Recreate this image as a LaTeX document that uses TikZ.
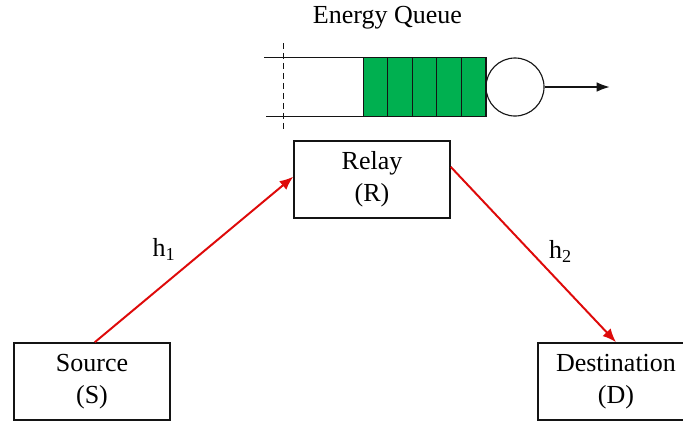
\documentclass[tikz,border=0pt]{standalone}
\usepackage{fontspec}
\setmainfont{Liberation Serif}
\usetikzlibrary{arrows.meta,positioning,calc}
\definecolor{linkred}{RGB}{222,10,10}
\definecolor{queuegreen}{RGB}{0,176,80}
\definecolor{boxline}{RGB}{20,20,20}
\tikzset{
  terminal/.style={draw=boxline, line width=1pt, fill=white, align=center,
    minimum width=3.9cm, minimum height=1.93cm, inner sep=0pt},
  cell/.style={draw=boxline, line width=0.8pt, fill=queuegreen},
  server/.style={circle, draw=boxline, line width=0.8pt, minimum size=1.45cm, inner sep=0pt},
  link/.style={-{Latex[length=3.4mm,width=2.8mm]}, line width=1.4pt, draw=linkred},
  flow/.style={-{Latex[length=3.2mm,width=2.4mm]}, line width=0.8pt, draw=boxline}
}

\begin{document}
\begin{tikzpicture}[x=0.025cm, y=-0.025cm,
    font=\fontsize{18.5}{23}\selectfont]
  \useasboundingbox (0,0) rectangle (683,423);

  % Energy queue
  \node[anchor=base] (title) at (387.5,23.3) {Energy Queue};
  \draw[boxline, line width=0.8pt] (264,57.3) -- (486,57.3);
  \draw[boxline, line width=0.8pt] (266,116.7) -- (486,116.7);
  \draw[boxline, line width=0.8pt, dash pattern=on 4.3pt off 2.8pt] (283.3,43) -- (283.3,132);
  \foreach \i in {0,...,4}
    \draw[cell] (363.3+\i*24.54,57.3) rectangle ++(24.54,59.4);
  \node[server] (server) at (515,87) {};
  \coordinate (out) at (609.5,87);
  \draw[flow] (server.east) -- (out);

  % Relay link
  \node[terminal] (relay) at (372,179.5) {Relay\\(R)};
  \node[terminal] (source) at (92,381.5) {Source\\(S)};
  \node[terminal] (dest) at (616,381.5) {Destination\\(D)};

  \draw[link] ([xshift=2pt]source.north) -- node[xshift=-0.75cm, yshift=0.25cm] {h\textsubscript{1}} ([yshift=2pt]relay.west);
  \draw[link] ([yshift=9pt]relay.east) -- node[xshift=0.68cm, yshift=0.08cm] {h\textsubscript{2}} (dest.north);
\end{tikzpicture}
\end{document}
